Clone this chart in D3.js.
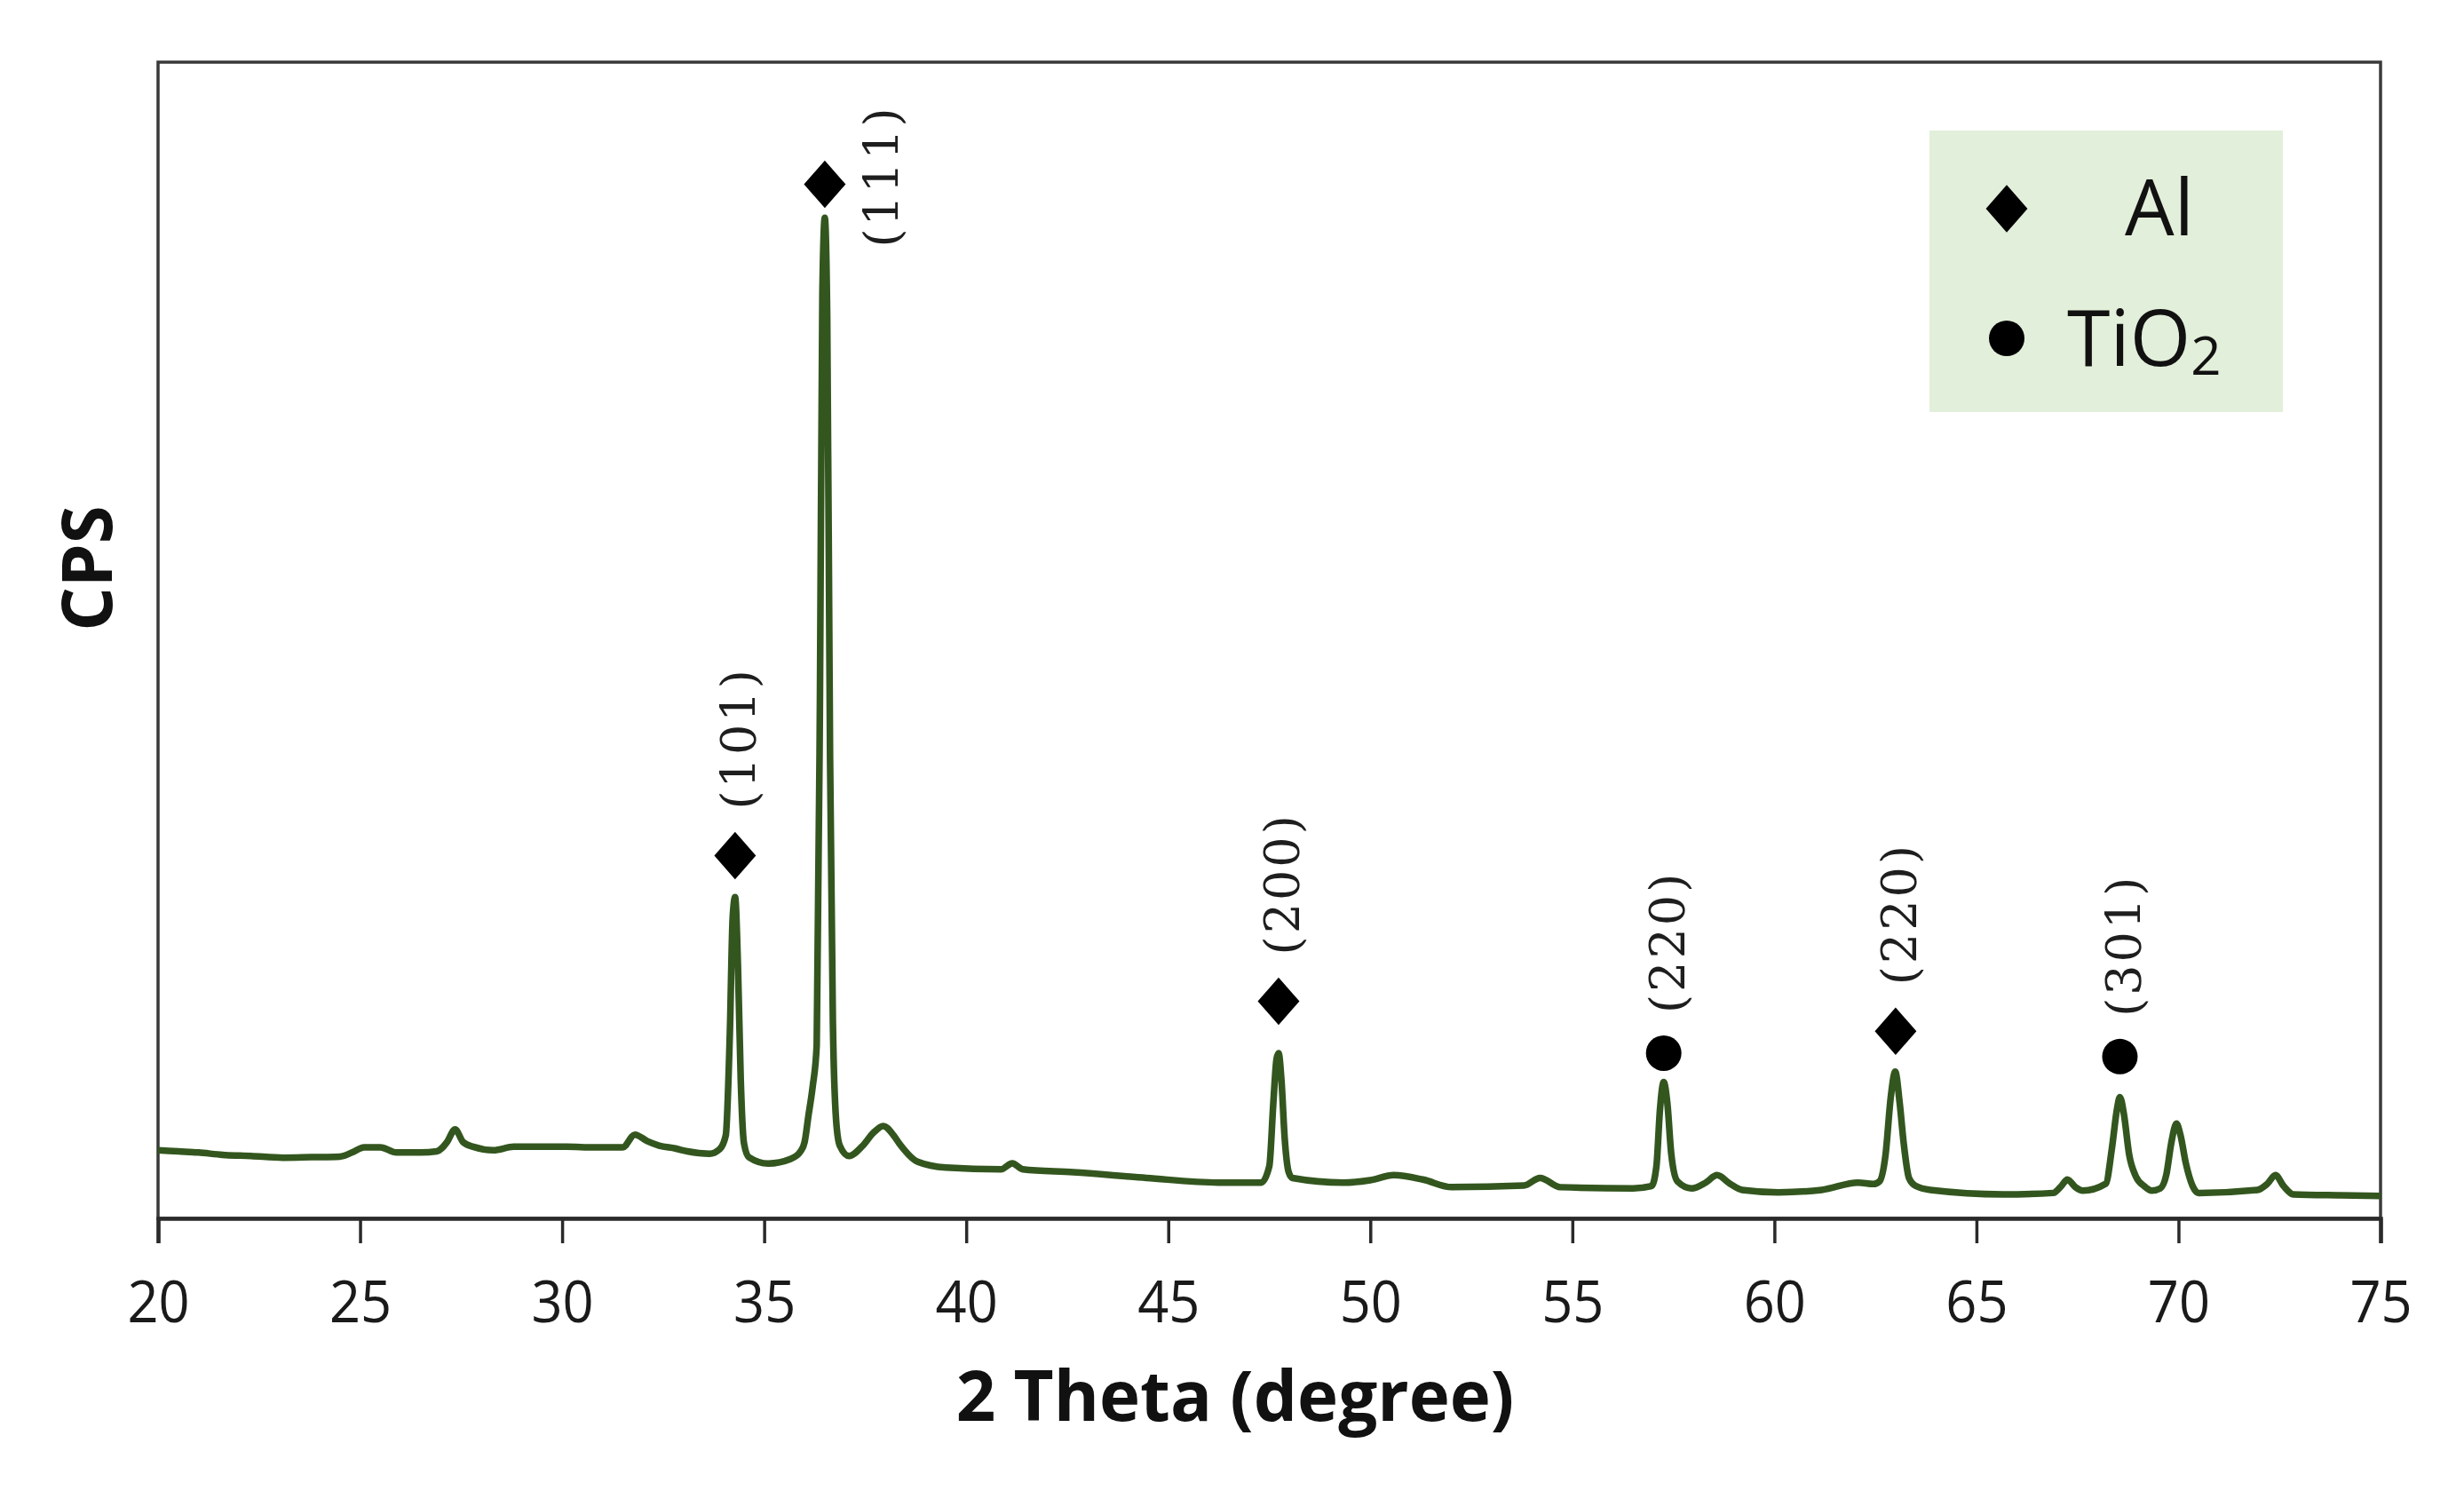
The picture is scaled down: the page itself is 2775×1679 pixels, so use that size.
<!DOCTYPE html>
<html>
<head>
<meta charset="utf-8">
<script src="https://cdn.jsdelivr.net/npm/d3@7"></script>
<style>
  html, body { margin: 0; padding: 0; background: #ffffff; }
  svg { display: block; }
</style>
</head>
<body>
<svg id="chart" width="2775" height="1679"></svg>
<script>
// ---- data (y in arbitrary CPS units) ----
const twoTheta = [
  20.0, 20.5, 21.0, 21.6, 22.3, 23.1, 23.8, 24.5, 24.8, 25.1, 25.5, 25.9, 26.5, 26.9,
  27.15, 27.35, 27.55, 27.8, 28.3, 28.8, 29.5, 30.1, 30.8, 31.5, 31.8, 32.1, 32.4, 32.8,
  33.1, 33.65, 33.9, 34.05, 34.15, 34.22, 34.28, 34.35, 34.42, 34.5, 34.62, 35.1, 35.66,
  35.9, 36.0, 36.1, 36.2, 36.3, 36.38, 36.44, 36.5, 36.56, 36.63, 36.7, 36.78, 36.87,
  37.1, 37.44, 37.7, 37.95, 38.2, 38.34, 38.8, 39.5, 40.86, 41.14, 41.4, 42.65, 44.46,
  46.24, 47.3, 47.5, 47.6, 47.68, 47.73, 47.8, 47.88, 47.98, 48.07, 49.33, 50.0, 50.58,
  51.3, 52.02, 53.8, 54.2, 54.7, 56.5, 56.96, 57.08, 57.17, 57.26, 57.35, 57.45, 57.6,
  57.95, 58.3, 58.58, 58.9, 59.2, 60.1, 61.17, 62.07, 62.45, 62.6, 62.75, 62.88, 62.99,
  63.1, 63.2, 63.33, 63.5, 63.86, 65.66, 66.9, 67.1, 67.25, 67.45, 67.63, 68.2, 68.35,
  68.48, 68.55, 68.65, 68.78, 68.95, 69.15, 69.34, 69.55, 69.7, 69.82, 69.95, 70.05,
  70.18, 70.35, 70.5, 71.95, 72.2, 72.4, 72.6, 72.84, 74.0, 75.0
];
const cps = [
  59, 58, 57, 55, 54, 52.5, 53, 53.5, 57, 61.5, 61.5, 57, 57, 58,
  66, 77, 66, 62, 59, 62, 62, 62, 61.5, 61.5, 72.5, 67, 63, 60.5,
  58, 56, 60, 72, 160, 260, 278, 220, 120, 65, 53, 47.5, 51.5,
  58, 66, 90, 114, 150, 450, 800, 866, 780, 400, 170, 85, 63,
  54, 63, 74, 80, 72, 65, 49, 44, 42.5, 47.7, 42.5, 40, 35,
  31, 31, 45, 100, 138, 143, 120, 70, 40, 35, 31, 33, 37.4,
  33.6, 27, 28.4, 35, 27, 26, 28, 45, 95, 118, 100, 55, 32,
  26, 31, 37.4, 30, 24.6, 22.5, 24.6, 31, 29.7, 32, 55, 105, 127,
  100, 65, 35, 28, 24.6, 20.8, 22, 28, 33.6, 27, 24, 30, 60,
  95, 105, 90, 55, 36, 28, 24, 26, 38, 65, 82, 72,
  48, 28, 22, 24.6, 30, 37.4, 28, 20.8, 20, 19.5
];

// peak annotations
const peakTheta  = [34.28, 36.5, 47.73, 57.26, 63.0, 68.55];
const peakPhase  = ["Al", "Al", "Al", "TiO2", "Al", "TiO2"];
const peakLabel  = ["(101)", "(111)", "(200)", "(220)", "(220)", "(301)"];
const markerCps  = [314, 895, 188, 143, 162, 140];

// axis
const xDomain = [20, 75];
const xTicks = [20, 25, 30, 35, 40, 45, 50, 55, 60, 65, 70, 75];
const yDomain = [0, 1000];

// legend
const legendPhases = ["Al", "TiO2"];

// ---- layout ----
const L = 178, R = 2681, T = 70, B = 1372;
const svg = d3.select("#chart");

const x = d3.scaleLinear().domain(xDomain).range([L, R]);
const y = d3.scaleLinear().domain(yDomain).range([B, T + 1]);

// frame
svg.append("rect")
  .attr("x", L).attr("y", T).attr("width", R - L).attr("height", B - T)
  .attr("fill", "none").attr("stroke", "#3a3a3a").attr("stroke-width", 3.5);

// x axis
const xAxis = d3.axisBottom(x).tickValues(xTicks).tickSize(28).tickPadding(42).tickSizeOuter(28);
const gx = svg.append("g").attr("transform", `translate(0,${B})`).call(xAxis);
gx.select(".domain").attr("stroke", "#2a2a2a").attr("stroke-width", 4.5);
gx.selectAll(".tick line").attr("stroke", "#2a2a2a").attr("stroke-width", 3.5);
gx.selectAll(".tick text")
  .attr("fill", "#1a1a1a")
  .style("font-family", "'Open Sans', sans-serif")
  .style("font-size", "66px")
  .attr("transform", "scale(0.93,1)");

// curve
const pts = twoTheta.map((t, i) => [t, cps[i]]);
const line = d3.line().x(d => x(d[0])).y(d => y(d[1])).curve(d3.curveMonotoneX);
svg.append("path")
  .datum(pts)
  .attr("d", line)
  .attr("fill", "none")
  .attr("stroke", "#33561f")
  .attr("stroke-width", 7.5)
  .attr("stroke-linejoin", "round");

// markers
const diamondPath = d3.symbol().type(d3.symbolSquare).size(1100)();
const circlePath = d3.symbol().type(d3.symbolCircle).size(Math.PI * 20 * 20)();
function drawMarker(g, phase, cx, cy) {
  if (phase === "Al") {
    g.append("path").attr("d", diamondPath)
      .attr("transform", `translate(${cx},${cy}) scale(1,1.14) rotate(45)`)
      .attr("fill", "#000");
  } else {
    g.append("path").attr("d", circlePath)
      .attr("transform", `translate(${cx},${cy})`)
      .attr("fill", "#000");
  }
}

const ann = svg.append("g");
peakTheta.forEach((t, i) => {
  const cx = x(t), cy = y(markerCps[i]);
  drawMarker(ann, peakPhase[i], cx, cy);
  const half = peakPhase[i] === "Al" ? 27 : 20;
  let lx, ly;
  const labelLen = 160;
  if (cy - half - 25 - labelLen < T) {
    lx = cx + 64; ly = cy + 71;        // not enough room above: put beside
  } else {
    lx = cx + 4; ly = cy - half - 25;   // above the marker
  }
  ann.append("text")
    .attr("transform", `translate(${lx},${ly}) rotate(-90)`)
    .attr("dy", "0.36em")
    .attr("text-anchor", "start")
    .style("font-family", "'DejaVu Serif', 'Liberation Serif', serif")
    .style("font-size", "54px")
    .style("letter-spacing", "3px")
    .attr("fill", "#1e1e1e")
    .text(peakLabel[i]);
});

// axis titles
svg.append("text")
  .attr("x", 1391).attr("y", 1600)
  .attr("text-anchor", "middle")
  .style("font-family", "'Open Sans', sans-serif")
  .style("font-weight", "700")
  .style("font-size", "78px")
  .attr("fill", "#111")
  .text("2 Theta (degree)");

svg.append("text")
  .attr("transform", "translate(126,640) rotate(-90)")
  .attr("text-anchor", "middle")
  .style("font-family", "'Open Sans', sans-serif")
  .style("font-weight", "700")
  .style("font-size", "78px")
  .attr("fill", "#111")
  .text("CPS");

// legend
const lg = svg.append("g");
lg.append("rect").attr("x", 2173).attr("y", 147).attr("width", 398).attr("height", 317)
  .attr("fill", "#e2efda");
const legendY = [235, 381];
legendPhases.forEach((p, i) => {
  drawMarker(lg, p, 2260, legendY[i]);
});
lg.append("text")
  .attr("x", 2393).attr("y", 265)
  .style("font-family", "'Open Sans', sans-serif")
  .style("font-size", "88px")
  .attr("fill", "#111")
  .text("Al");
const tio = lg.append("text")
  .attr("x", 2328).attr("y", 412)
  .style("font-family", "'Open Sans', sans-serif")
  .style("font-size", "88px")
  .attr("fill", "#111");
tio.append("tspan").text("TiO");
tio.append("tspan").attr("dy", 10).style("font-size", "60px").text("2");
</script>
</body>
</html>
